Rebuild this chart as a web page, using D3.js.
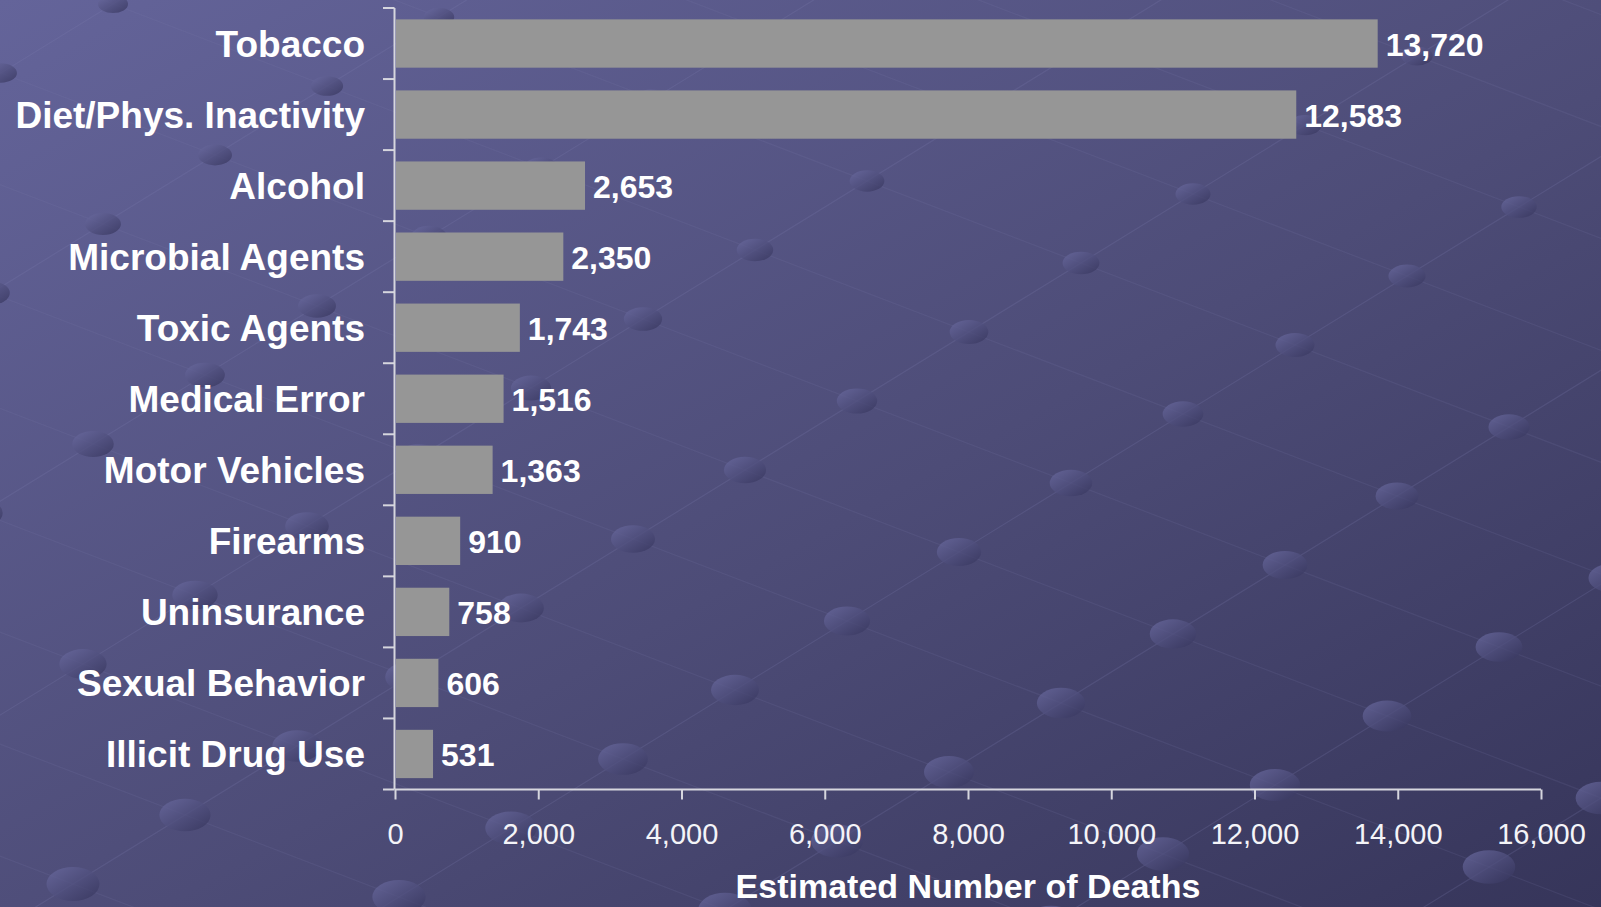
<!DOCTYPE html>
<html>
<head>
<meta charset="utf-8">
<script src="https://cdn.jsdelivr.net/npm/d3@7"></script>
<style>
  html, body { margin: 0; padding: 0; background: #4d4c78; }
  svg { display: block; font-family: "Liberation Sans", Arial, sans-serif; }
</style>
</head>
<body>
<svg id="chart" width="1601" height="907"></svg>
<script>
// chart data
var categories = ["Tobacco", "Diet/Phys. Inactivity", "Alcohol", "Microbial Agents",
                  "Toxic Agents", "Medical Error", "Motor Vehicles", "Firearms",
                  "Uninsurance", "Sexual Behavior", "Illicit Drug Use"];
var deaths = [13720, 12583, 2653, 2350, 1743, 1516, 1363, 910, 758, 606, 531];
var xTicks = [0, 2000, 4000, 6000, 8000, 10000, 12000, 14000, 16000];
var xTitle = "Estimated Number of Deaths";

var W = 1601, H = 907;
var svg = d3.select("#chart");
var defs = svg.append("defs");

// background gradient (slide template)
var bg = defs.append("linearGradient")
    .attr("id", "bg").attr("x1", 0).attr("y1", 0).attr("x2", 1).attr("y2", 1);
bg.append("stop").attr("offset", "0%").attr("stop-color", "#64649a");
bg.append("stop").attr("offset", "55%").attr("stop-color", "#4d4c77");
bg.append("stop").attr("offset", "100%").attr("stop-color", "#36355a");

var dot = defs.append("linearGradient")
    .attr("id", "dot").attr("x1", 0).attr("y1", 0).attr("x2", 1).attr("y2", 1);
dot.append("stop").attr("offset", "0%").attr("stop-color", "#6c6ca2");
dot.append("stop").attr("offset", "100%").attr("stop-color", "#34335a");

svg.append("rect").attr("width", W).attr("height", H).attr("fill", "url(#bg)");

// decorative lattice behind the chart
var deco = svg.append("g").attr("class", "deco");
var o = [623, 759], A = [214, 82], B = [112, -69];
var pts = [];
for (var i = -8; i <= 8; i++) {
    for (var j = -8; j <= 12; j++) {
        var px = o[0] + i * A[0] + j * B[0], py = o[1] + i * A[1] + j * B[1];
        if (px > -60 && px < W + 60 && py > -40 && py < H + 40) pts.push([px, py]);
    }
}
for (var k = -8; k <= 8; k++) {
    var p0 = [o[0] + k * A[0] - 12 * B[0], o[1] + k * A[1] - 12 * B[1]];
    var p1 = [o[0] + k * A[0] + 16 * B[0], o[1] + k * A[1] + 16 * B[1]];
    deco.append("line").attr("x1", p0[0]).attr("y1", p0[1]).attr("x2", p1[0]).attr("y2", p1[1])
        .attr("stroke", "#8080b0").attr("stroke-opacity", 0.22).attr("stroke-width", 1.2);
}
for (var m = -8; m <= 12; m++) {
    var q0 = [o[0] + m * B[0] - 10 * A[0], o[1] + m * B[1] - 10 * A[1]];
    var q1 = [o[0] + m * B[0] + 10 * A[0], o[1] + m * B[1] + 10 * A[1]];
    deco.append("line").attr("x1", q0[0]).attr("y1", q0[1]).attr("x2", q1[0]).attr("y2", q1[1])
        .attr("stroke", "#8080b0").attr("stroke-opacity", 0.15).attr("stroke-width", 1.2);
}
deco.selectAll("ellipse").data(pts).enter().append("ellipse")
    .attr("cx", function(d) { return d[0]; })
    .attr("cy", function(d) { return d[1]; })
    .attr("rx", function(d) { return 15 + Math.max(0, d[1]) * 0.013; })
    .attr("ry", function(d) { return 9 + Math.max(0, d[1]) * 0.009; })
    .attr("fill", "url(#dot)").attr("opacity", 0.75);

// scales
var x = d3.scaleLinear().domain([0, 16000]).range([395, 1541]);
var y = d3.scaleBand().domain(categories).range([8, 789.5])
    .paddingInner(0.32).paddingOuter(0.16);
var fmt = d3.format(",");
var axisColor = "#d6d6de";

// bars
svg.append("g").selectAll("rect").data(categories).enter().append("rect")
    .attr("x", x(0) + 1)
    .attr("y", function(d) { return y(d); })
    .attr("width", function(d, i) { return x(deaths[i]) - x(0) - 1; })
    .attr("height", y.bandwidth())
    .attr("fill", "#969696");

// value labels
svg.append("g").selectAll("text").data(categories).enter().append("text")
    .attr("x", function(d, i) { return x(deaths[i]) + 8; })
    .attr("y", function(d) { return y(d) + y.bandwidth() / 2; })
    .attr("dy", "0.38em")
    .attr("fill", "#ffffff")
    .attr("font-size", 32).attr("font-weight", "bold")
    .text(function(d, i) { return fmt(deaths[i]); });

// y axis: line, ticks at band boundaries, labels
var yAx = svg.append("g");
var r = y.range();
yAx.append("line").attr("x1", 394.5).attr("x2", 394.5).attr("y1", r[0]).attr("y2", r[1])
    .attr("stroke", axisColor).attr("stroke-width", 2);
yAx.selectAll("line.tick").data(d3.range(categories.length + 1)).enter().append("line")
    .attr("class", "tick")
    .attr("x1", 383).attr("x2", 394.5)
    .attr("y1", function(d) { return r[0] + d * y.step(); })
    .attr("y2", function(d) { return r[0] + d * y.step(); })
    .attr("stroke", axisColor).attr("stroke-width", 2);
yAx.selectAll("text").data(categories).enter().append("text")
    .attr("x", 365)
    .attr("y", function(d) { return y(d) + y.bandwidth() / 2; })
    .attr("dy", "0.36em")
    .attr("text-anchor", "end")
    .attr("fill", "#ffffff")
    .attr("font-size", 37).attr("font-weight", "bold")
    .text(function(d) { return d; });

// x axis
var xAx = svg.append("g").attr("transform", "translate(0," + r[1] + ")")
    .call(d3.axisBottom(x).tickValues(xTicks).tickSize(10).tickPadding(24).tickFormat(fmt));
xAx.select(".domain").attr("stroke", axisColor).attr("stroke-width", 2)
    .attr("d", "M" + x(0) + ",0H" + x(16000));
xAx.selectAll(".tick line").attr("stroke", axisColor).attr("stroke-width", 2);
xAx.selectAll(".tick text")
    .attr("fill", "#f4f4f8")
    .attr("font-size", 29)
    .attr("font-family", "'Liberation Sans', Arial, sans-serif");

svg.append("text")
    .attr("x", (x(0) + x(16000)) / 2).attr("y", 898)
    .attr("text-anchor", "middle")
    .attr("fill", "#ffffff")
    .attr("font-size", 34).attr("font-weight", "bold")
    .text(xTitle);
</script>
</body>
</html>
